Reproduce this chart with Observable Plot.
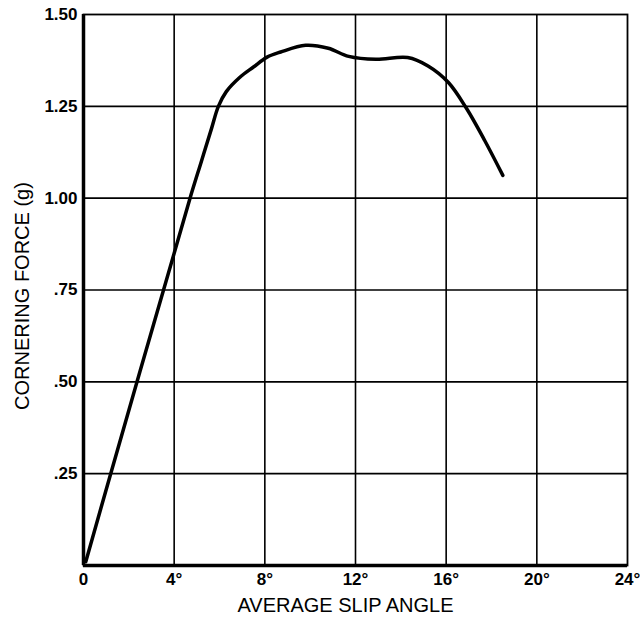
<!DOCTYPE html>
<html>
<head>
<meta charset="utf-8">
<script src="https://cdn.jsdelivr.net/npm/d3@7"></script>
<script src="https://cdn.jsdelivr.net/npm/@observablehq/plot@0.6"></script>
<style>
  html, body { margin: 0; padding: 0; background: #fff; }
  #chart svg { display: block; }
</style>
</head>
<body>
<div id="chart"></div>
<script>
// Slip angle (degrees) and cornering force (g)
const slipAngle = [0.1, 1.2, 2.5, 4.0, 4.7, 5.2, 5.65, 5.95, 6.3, 6.9, 7.5, 8.1, 8.7, 9.8, 10.8, 11.7, 12.9, 14.3, 15.2, 16.1, 16.9, 17.7, 18.5];
const corneringForce = [0.01, 0.25, 0.53, 0.85, 1.0, 1.1, 1.19, 1.25, 1.29, 1.329, 1.357, 1.384, 1.398, 1.416, 1.408, 1.386, 1.378, 1.383, 1.36, 1.315, 1.244, 1.157, 1.062];

const xTicks = [0, 4, 8, 12, 16, 20, 24];
const xTickLabels = ["0", "4°", "8°", "12°", "16°", "20°", "24°"];
const yTicks = [0.25, 0.5, 0.75, 1.0, 1.25, 1.5];
const yTickLabels = [".25", ".50", ".75", "1.00", "1.25", "1.50"];

const data = slipAngle.map((x, i) => ({x, y: corneringForce[i]}));

const chart = Plot.plot({
  width: 640,
  height: 621,
  marginLeft: 83,
  marginRight: 13,
  marginTop: 14,
  marginBottom: 56,
  style: {fontFamily: "'Liberation Sans', Arial, sans-serif", background: "#fff", color: "#000"},
  x: {domain: [0, 24]},
  y: {domain: [0, 1.5]},
  marks: [
    Plot.ruleX(xTicks.slice(1, -1), {stroke: "#000", strokeWidth: 1.6}),
    Plot.ruleY(yTicks.slice(0, -1), {stroke: "#000", strokeWidth: 1.6}),
    Plot.frame({stroke: "#000", strokeWidth: 1.8}),
    Plot.ruleX([0], {stroke: "#000", strokeWidth: 3.5}),
    Plot.ruleY([0], {stroke: "#000", strokeWidth: 3.5}),
    Plot.axisX(xTicks, {
      tickSize: 0, tickPadding: 7, fontSize: 17, fontWeight: "bold",
      tickFormat: (d) => xTickLabels[xTicks.indexOf(d)],
      label: null
    }),
    Plot.axisY(yTicks, {
      tickSize: 0, tickPadding: 6, fontSize: 17, fontWeight: "bold",
      tickFormat: (d) => yTickLabels[yTicks.indexOf(d)],
      label: null
    }),
    Plot.text(["AVERAGE SLIP ANGLE"], {
      frameAnchor: "bottom", dy: 46, dx: -10, fontSize: 20, fill: "#000",
      letterSpacing: "0.5px"
    }),
    Plot.text(["CORNERING FORCE (g)"], {
      frameAnchor: "left", textAnchor: "middle", dx: -61, dy: 6, rotate: -90, fontSize: 20, fill: "#000",
      letterSpacing: "0.5px"
    }),
    Plot.line(data, {x: "x", y: "y", curve: "catmull-rom", stroke: "#000", strokeWidth: 3.5, strokeLinecap: "round"})
  ]
});
document.getElementById("chart").append(chart);
</script>
</body>
</html>
